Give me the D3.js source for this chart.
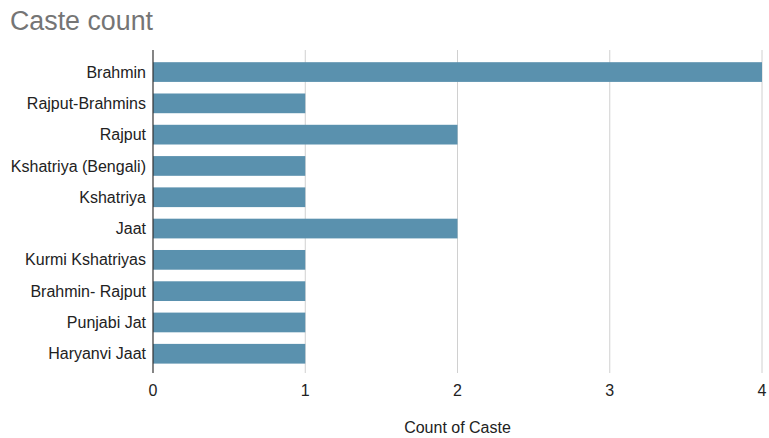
<!DOCTYPE html>
<html><head><meta charset="utf-8">
<script src="https://cdn.jsdelivr.net/npm/d3@7"></script>
<style>body{margin:0;background:#fff;}svg{display:block;font-family:Arial,"Liberation Sans",sans-serif;}</style>
</head><body>
<svg id="c" width="769" height="438"></svg>
<script>
const categories = ["Brahmin","Rajput-Brahmins","Rajput","Kshatriya (Bengali)","Kshatriya","Jaat","Kurmi Kshatriyas","Brahmin- Rajput","Punjabi Jat","Haryanvi Jaat"];
const counts = [4,1,2,1,1,2,1,1,1,1];
const xTicks = [0,1,2,3,4];
const title = "Caste count";
const xTitle = "Count of Caste";

const svg = d3.select("#c");
const x = d3.scaleLinear().domain([0,4]).range([153,762]);
const y = d3.scaleBand().domain(categories).range([56.4,369.4]).paddingInner(0.37).paddingOuter(0.185);

svg.append("text").attr("x",10).attr("y",30).attr("font-size",26.8).attr("fill","#757575").text(title);

// gridlines
svg.append("g").selectAll("line").data(xTicks.filter(d=>d>0)).join("line")
  .attr("x1",d=>x(d)).attr("x2",d=>x(d)).attr("y1",50).attr("y2",373)
  .attr("stroke","#d0d0d0").attr("stroke-width",1);

// bars
svg.append("g").selectAll("rect").data(categories).join("rect")
  .attr("x",x(0)).attr("y",d=>y(d))
  .attr("width",(d,i)=>x(counts[i])-x(0)).attr("height",y.bandwidth())
  .attr("fill","#5a91ae");

// axis line
svg.append("line").attr("x1",x(0)).attr("x2",x(0)).attr("y1",50).attr("y2",373)
  .attr("stroke","#333").attr("stroke-width",1.2);

// y labels
svg.append("g").selectAll("text").data(categories).join("text")
  .attr("x",146).attr("y",d=>y(d)+y.bandwidth()/2).attr("dy","0.35em")
  .attr("text-anchor","end").attr("font-size",16).attr("fill","#222").text(d=>d);

// x tick labels
svg.append("g").selectAll("text").data(xTicks).join("text")
  .attr("x",d=>x(d)).attr("y",396).attr("text-anchor","middle")
  .attr("font-size",16).attr("fill","#222").text(d=>d);

svg.append("text").attr("x",(x(0)+x(4))/2).attr("y",433).attr("text-anchor","middle")
  .attr("font-size",16).attr("fill","#222").text(xTitle);
</script>
</body></html>
